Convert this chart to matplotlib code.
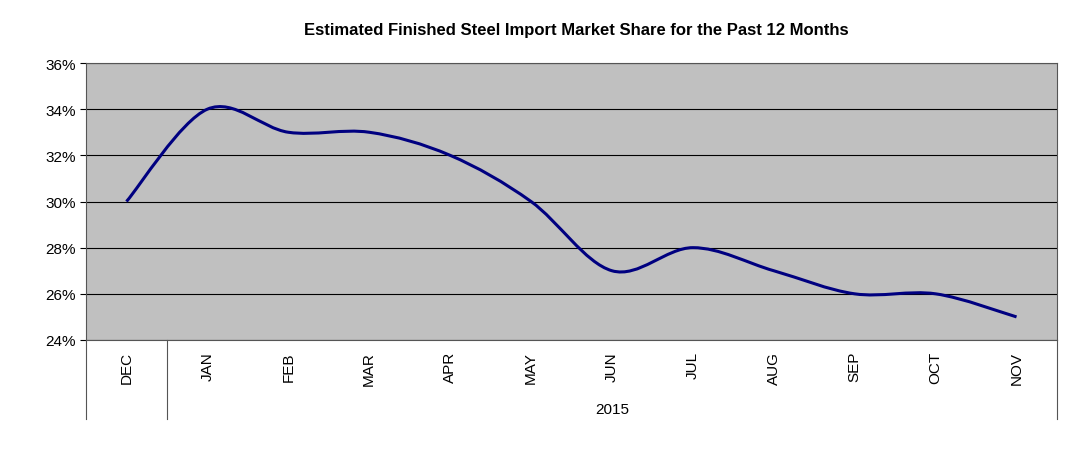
import numpy as np
import matplotlib
matplotlib.use("Agg")
import matplotlib.pyplot as plt
from matplotlib.path import Path
from matplotlib.patches import PathPatch
from matplotlib.ticker import FuncFormatter

# Chart data
months = ["DEC", "JAN", "FEB", "MAR", "APR", "MAY", "JUN", "JUL", "AUG", "SEP", "OCT", "NOV"]
share = [30, 34, 33, 33, 32, 30, 27, 28, 27, 26, 26, 25]
year_label = "2015"


def smooth_path(xs, ys, t=1 / 6):
    # Catmull-Rom style bezier curve through the points (like Excel's smoothed line)
    pts = np.column_stack([xs, ys]).astype(float)
    ext = np.vstack([pts[0], pts, pts[-1]])
    verts = [tuple(pts[0])]
    codes = [Path.MOVETO]
    for i in range(1, len(ext) - 2):
        p0, p1, p2, p3 = ext[i - 1], ext[i], ext[i + 1], ext[i + 2]
        c1 = p1 + (p2 - p0) * t
        c2 = p2 - (p3 - p1) * t
        verts += [tuple(c1), tuple(c2), tuple(p2)]
        codes += [Path.CURVE4] * 3
    return Path(verts, codes)


fig = plt.figure(figsize=(10.77, 4.64), dpi=100)
ax = fig.add_axes([86 / 1077, 123 / 464, 971 / 1077, 277 / 464])
ax.set_facecolor("#C0C0C0")

x = np.arange(len(months))
ax.add_patch(PathPatch(smooth_path(x, share), facecolor="none", edgecolor="#000080", lw=2.2, zorder=3))

ax.set_xlim(-0.5, len(months) - 0.5)
ax.set_ylim(24, 36)
ax.set_yticks(range(24, 37, 2))
ax.yaxis.set_major_formatter(FuncFormatter(lambda v, p: f"{v:.0f}%"))
ax.grid(axis="y", color="black", lw=0.8)
ax.set_axisbelow(True)
ax.set_xticks(x)
ax.set_xticklabels(months, rotation=90, fontsize=11, family="Liberation Sans")
ax.tick_params(axis="x", length=0, pad=8)
ax.tick_params(axis="y", labelsize=11, direction="out", length=4)
for lab in ax.get_yticklabels():
    lab.set_family("Liberation Sans")
for s in ax.spines.values():
    s.set_color("#555555")
    s.set_linewidth(0.8)

# category separators below the axis
for xv in [-0.5, 0.5, len(months) - 0.5]:
    ax.plot([xv, xv], [0, -0.285], transform=ax.get_xaxis_transform(), color="#555555", lw=0.8, clip_on=False)
ax.text((0.5 + len(months) - 0.5) / 2, -0.25, year_label, transform=ax.get_xaxis_transform(),
        ha="center", va="center", fontsize=11, family="Liberation Sans")

fig.text(0.535, 0.934, "Estimated Finished Steel Import Market Share for the Past 12 Months",
         ha="center", va="center", fontsize=12, fontweight="bold", family="Liberation Sans")

fig.savefig("out.png", dpi=100)
